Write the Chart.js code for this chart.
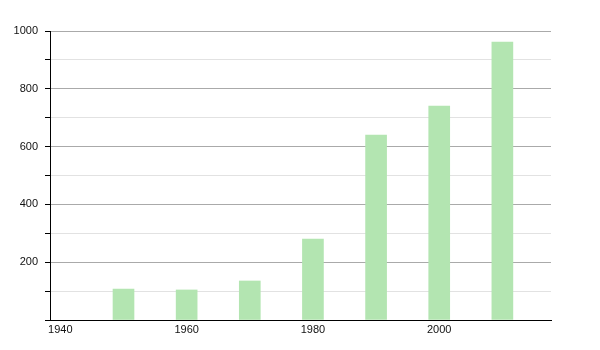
<!DOCTYPE html>
<html>
<head>
<meta charset="utf-8">
<script src="https://cdn.jsdelivr.net/npm/chart.js@4"></script>
<style>
  html, body { margin: 0; padding: 0; background: #fff; }
  #wrap { width: 600px; height: 350px; }
</style>
</head>
<body>
<div id="wrap"><canvas id="myChart" width="600" height="350"></canvas></div>
<script>
var years = [1950, 1960, 1970, 1980, 1990, 2000, 2010];
var values = [107, 104, 135, 280, 640, 740, 962];
var xTicks = [1940, 1960, 1980, 2000];

var points = years.map(function(y, i){ return {x: y, y: values[i]}; });

var ctx = document.getElementById('myChart');
var myChart = new Chart(ctx, {
    type: 'bar',
    data: {
        datasets: [{
            data: points,
            backgroundColor: '#b3e5b1',
            borderWidth: 0,
            barThickness: 21
        }]
    },
    options: {
        responsive: false,
        animation: false,
        layout: {
            padding: {top: 31, right: 49, bottom: 0, left: 0}
        },
        plugins: {
            legend: {display: false},
            tooltip: {enabled: false}
        },
        scales: {
            x: {
                type: 'linear',
                offset: false,
                min: 1938.36,
                max: 2017.7,
                afterBuildTicks: function(scale){
                    scale.ticks = xTicks.map(function(v){ return {value: v}; });
                },
                afterFit: function(scale){ scale.height = 30; },
                grid: {display: false, drawTicks: false, offset: false},
                border: {display: true, color: '#000', width: 1},
                ticks: {
                    padding: 3,
                    color: '#111',
                    font: {family: 'Liberation Sans', size: 11},
                    maxRotation: 0,
                    autoSkip: false,
                    callback: function(v){ return String(v); }
                }
            },
            y: {
                min: 0,
                max: 1000,
                afterFit: function(scale){ scale.width = 50; },
                grid: {
                    color: function(c){ return (c.tick.value % 200 === 0) ? '#aaaaaa' : '#e2e2e2'; },
                    tickColor: '#000',
                    tickLength: 5
                },
                border: {display: true, color: '#000', width: 1},
                ticks: {
                    stepSize: 100,
                    padding: 7,
                    color: '#111',
                    font: {family: 'Liberation Sans', size: 11},
                    callback: function(v){ return (v > 0 && v % 200 === 0) ? v : ''; }
                }
            }
        }
    }
});
</script>
</body>
</html>
